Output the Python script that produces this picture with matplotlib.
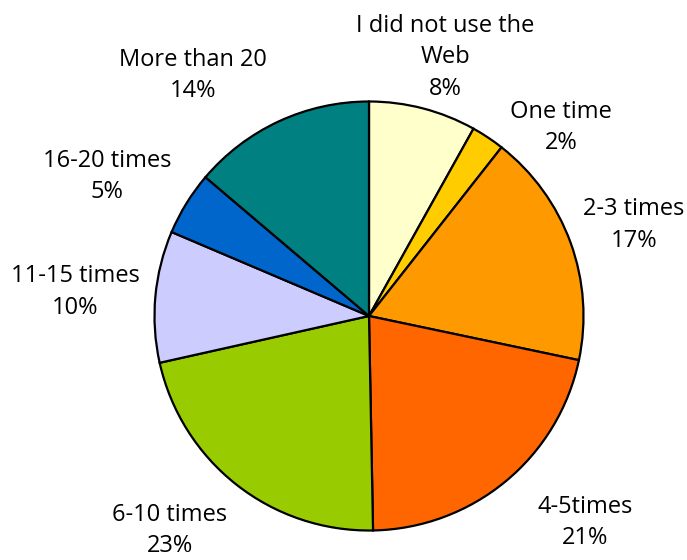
import matplotlib
matplotlib.use("Agg")
import matplotlib.pyplot as plt

categories = ["I did not use the\nWeb", "One time", "2-3 times", "4-5times",
              "6-10 times", "11-15 times", "16-20 times", "More than 20"]
# slice sizes as drawn in the picture (percent)
values = [8.1, 2.5, 17.7, 21.4, 21.8, 9.9, 4.8, 13.8]
# percentages as printed in the labels
pct_labels = ["8%", "2%", "17%", "21%", "23%", "10%", "5%", "14%"]
colors = ["#FFFFCC", "#FFCC00", "#FF9900", "#FF6600",
          "#99CC00", "#CCCCFF", "#0066CC", "#008080"]
# label positions in data units (radius = 1)
label_pos = [(0.355, 1.206), (0.897, 0.879), (1.234, 0.425), (1.006, -0.963),
             (-0.93, -1.0), (-1.369, 0.112), (-1.22, 0.65), (-0.822, 1.122)]

plt.rcParams['font.family'] = ['Open Sans', 'DejaVu Sans']
fig = plt.figure(figsize=(6.87, 5.60), dpi=100)
W, H = 687, 560
cx, cy, r = 369, 316, 214.5
ax = fig.add_axes([(cx - r) / W, (H - cy - r) / H, 2 * r / W, 2 * r / H])
ax.pie(values, colors=colors, startangle=90, counterclock=False,
       wedgeprops=dict(edgecolor="black", linewidth=1.6))
ax.set_xlim(-1, 1)
ax.set_ylim(-1, 1)
ax.set_aspect("equal")
ax.axis("off")

for cat, p, (x, y) in zip(categories, pct_labels, label_pos):
    ax.text(x, y, f"{cat}\n{p}", ha="center", va="center",
            fontsize=17, linespacing=1.42, clip_on=False)

fig.savefig("out.png", dpi=100)
